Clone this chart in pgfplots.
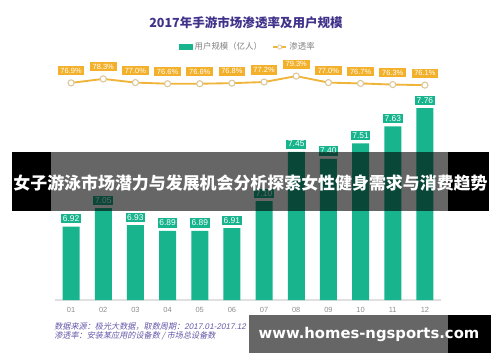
\documentclass[border=0pt]{standalone}
\usepackage{fontspec}
\setmainfont{Liberation Sans}
\newfontfamily\cjk{Noto Sans CJK SC}
\newfontfamily\cjkit[FakeSlant=0.2]{Noto Sans CJK SC}
\newfontfamily\latit[FakeSlant=0.2]{Liberation Sans}
\newfontfamily\dejab{DejaVu Sans}
\usepackage{pgfplots}
\pgfplotsset{compat=1.18}
\definecolor{bargreen}{HTML}{17B48E}
\definecolor{lineor}{HTML}{EFB53A}
\definecolor{boxor}{HTML}{F3B02A}
\definecolor{markedge}{HTML}{DCC79A}
\definecolor{titlep}{HTML}{40328A}
\definecolor{notep}{HTML}{6558A8}
\begin{document}
\begin{tikzpicture}
\useasboundingbox (0,0) rectangle (375pt,271.5pt);
% bars
\begin{axis}[at={(41.25pt,46.5pt)}, anchor=south west, scale only axis,
  width=289.5pt, height=180pt, xmin=-0.5, xmax=11.5, ymin=6.4, ymax=8.1,
  ybar, bar width=12.75pt, clip=false,
  axis x line=bottom, axis y line=none,
  x axis line style={-, draw=black!12, line width=0.8pt},
  xtick={0,...,11}, xticklabels={01,02,03,04,05,06,07,08,09,10,11,12},
  major tick length=0pt,
  xticklabel style={font=\fontsize{5.6}{6}\selectfont, text=black!45, yshift=-2pt},
  nodes near coords={\pgfmathprintnumber[fixed,zerofill,precision=2,assume math mode=true]{\pgfplotspointmeta}},
  nodes near coords style={fill=bargreen, text=white, anchor=south, inner sep=1.2pt, yshift=2.2pt,
    font=\fontsize{6.3}{6.3}\selectfont, minimum width=14pt},
]
\addplot[fill=bargreen, draw=none] coordinates {
(0,6.92) (1,7.05) (2,6.93) (3,6.89) (4,6.89) (5,6.91)
(6,7.10) (7,7.45) (8,7.40) (9,7.51) (10,7.63) (11,7.76)};
\end{axis}
% line
\begin{axis}[at={(41.25pt,46.5pt)}, anchor=south west, scale only axis,
  width=289.5pt, height=180pt, xmin=-0.5, xmax=11.5, ymin=0, ymax=85,
  hide axis, clip=false,
  legend style={at={(0.5,1.054)}, anchor=center, draw=none, fill=none,
    font=\cjk\fontsize{6.3}{7}\selectfont, text=black!50,
    /tikz/every even column/.append style={column sep=6pt}},
  legend columns=2, legend cell align=left,
]
\addlegendimage{legend image code/.code={\fill[bargreen] (0cm,-0.065cm) rectangle (0.34cm,0.065cm);}}
\addlegendentry{用户规模（亿人）}
\addplot[lineor, line width=1.4pt, mark=*, mark size=2.3pt,
  mark options={fill=white, draw=markedge, line width=0.8pt},
  nodes near coords={\pgfmathprintnumber[fixed,zerofill,precision=1,assume math mode=true]{\pgfplotspointmeta}\%},
  nodes near coords style={fill=boxor, text=white, anchor=south, inner sep=1pt, yshift=5.2pt,
    font=\fontsize{5.6}{5.6}\selectfont, minimum width=20pt, minimum height=6.8pt},
  legend image code/.code={\draw[lineor, line width=1pt] (0cm,0cm) -- (0.34cm,0cm);
    \draw[markedge, fill=white, line width=0.6pt] (0.17cm,0cm) circle (1.6pt);}]
coordinates {
(0,76.9) (1,78.3) (2,77.0) (3,76.6) (4,76.6) (5,76.8)
(6,77.2) (7,79.3) (8,77.0) (9,76.7) (10,76.3) (11,76.1)};
\addlegendentry{渗透率}
\end{axis}
\begin{scope}[x=0.75pt, y=-0.75pt, shift={(0,271.5pt)}]
\node[font=\cjk\bfseries\fontsize{9.4}{10}\selectfont, text=titlep] at (246,23) {2017年手游市场渗透率及用户规模};
\node[anchor=west, font=\fontsize{6.1}{7}\selectfont, text=notep, inner sep=0pt] at (54,327)
  {\cjkit 数据来源：极光大数据，取数周期：\latit 2017.01-2017.12};
\node[anchor=west, font=\fontsize{6.1}{7}\selectfont, text=notep, inner sep=0pt] at (54,336)
  {\cjkit 渗透率：安装某应用的设备数 / 市场总设备数};
% overlay banners
\fill[black] (12,152) rectangle (51,211);
\fill[black] (448,152) rectangle (489,211);
\fill[black, opacity=0.6] (51,152) rectangle (448,211);
\node[text=white, font=\cjk\bfseries\fontsize{12.7}{13}\selectfont, inner sep=0pt] at (250.5,183) {女子游泳市场潜力与发展机会分析探索女性健身需求与消费趋势};
\fill[black, opacity=0.6] (249,315) rectangle (448,353);
\fill[black] (448,315) rectangle (491,353);
\node[text=white, font=\dejab\bfseries\fontsize{11.1}{12}\selectfont, inner sep=0pt] at (369,334) {www.homes-ngsports.com};
\end{scope}
\end{tikzpicture}
\end{document}
